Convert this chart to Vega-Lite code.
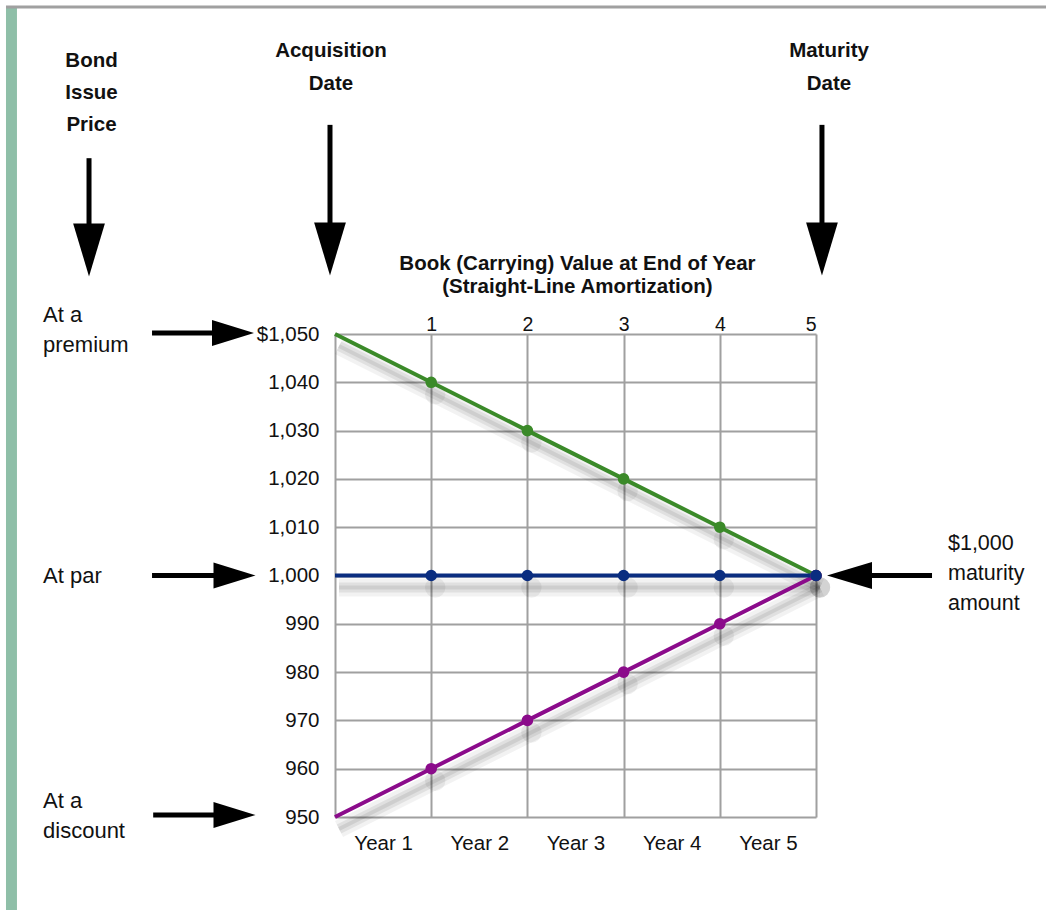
{
  "$schema": "https://vega.github.io/schema/vega-lite/v6.json",
  "width": 481,
  "height": 483,
  "autosize": {"type": "none"},
  "padding": {"left": 335, "top": 334, "right": 230, "bottom": 93},
  "background": "white",
  "config": {"view": {"stroke": null}, "font": "Liberation Sans"},
  "datasets": {
    "bonds": [
      {"year": 0, "series": "Premium", "value": 1050},
      {"year": 1, "series": "Premium", "value": 1040},
      {"year": 2, "series": "Premium", "value": 1030},
      {"year": 3, "series": "Premium", "value": 1020},
      {"year": 4, "series": "Premium", "value": 1010},
      {"year": 5, "series": "Premium", "value": 1000},
      {"year": 0, "series": "Discount", "value": 950},
      {"year": 1, "series": "Discount", "value": 960},
      {"year": 2, "series": "Discount", "value": 970},
      {"year": 3, "series": "Discount", "value": 980},
      {"year": 4, "series": "Discount", "value": 990},
      {"year": 5, "series": "Discount", "value": 1000},
      {"year": 0, "series": "Par", "value": 1000},
      {"year": 1, "series": "Par", "value": 1000},
      {"year": 2, "series": "Par", "value": 1000},
      {"year": 3, "series": "Par", "value": 1000},
      {"year": 4, "series": "Par", "value": 1000},
      {"year": 5, "series": "Par", "value": 1000}
    ]
  },
  "resolve": {"axis": {"x": "independent", "y": "independent"}},
  "layer": [
    {
      "data": {"name": "bonds"},
      "mark": {"type": "line", "color": "#000000", "opacity": 0.05, "strokeWidth": 18, "xOffset": 4, "yOffset": 12},
      "encoding": {
        "x": {"field": "year", "type": "quantitative", "axis": null, "scale": {"domain": [0, 5], "nice": false, "zero": false}},
        "y": {"field": "value", "type": "quantitative", "axis": null, "scale": {"domain": [950, 1050], "nice": false, "zero": false}},
        "detail": {"field": "series"}
      }
    },
    {
      "data": {"name": "bonds"},
      "mark": {"type": "line", "color": "#000000", "opacity": 0.07, "strokeWidth": 10, "xOffset": 4, "yOffset": 12},
      "encoding": {
        "x": {"field": "year", "type": "quantitative", "axis": null},
        "y": {"field": "value", "type": "quantitative", "axis": null},
        "detail": {"field": "series"}
      }
    },
    {
      "data": {"name": "bonds"},
      "mark": {"type": "line", "color": "#000000", "opacity": 0.08, "strokeWidth": 4, "xOffset": 4, "yOffset": 12},
      "encoding": {
        "x": {"field": "year", "type": "quantitative", "axis": null},
        "y": {"field": "value", "type": "quantitative", "axis": null},
        "detail": {"field": "series"}
      }
    },
    {
      "data": {"name": "bonds"},
      "transform": [{"filter": "datum.year > 0"}],
      "mark": {"type": "point", "filled": true, "color": "#000000", "opacity": 0.06, "size": 420, "shape": "circle", "strokeWidth": 0, "xOffset": 4, "yOffset": 12},
      "encoding": {
        "x": {"field": "year", "type": "quantitative", "axis": null},
        "y": {"field": "value", "type": "quantitative", "axis": null}
      }
    },
    {
      "data": {"name": "bonds"},
      "mark": {"type": "line", "strokeWidth": 4},
      "encoding": {
        "x": {
          "field": "year", "type": "quantitative",
          "scale": {"domain": [0, 5], "nice": false, "zero": false},
          "axis": {"orient": "top", "values": [0, 1, 2, 3, 4, 5], "labelExpr": "datum.value == 0 ? '' : datum.label", "grid": true, "gridColor": "#a0a0a0", "gridWidth": 2, "gridOpacity": 1, "ticks": false, "tickSize": 0, "domain": false, "labelBaseline": "alphabetic", "labelPadding": 4, "labelFontSize": 19.5, "labelColor": "#111111", "labelFont": "Liberation Sans", "title": null}
        },
        "y": {
          "field": "value", "type": "quantitative",
          "scale": {"domain": [950, 1050], "nice": false, "zero": false},
          "axis": {"orient": "left", "values": [950, 960, 970, 980, 990, 1000, 1010, 1020, 1030, 1040, 1050], "labelExpr": "datum.value == 1050 ? '$1,050' : format(datum.value, ',')", "grid": true, "gridColor": "#a0a0a0", "gridWidth": 2, "gridOpacity": 1, "ticks": false, "tickSize": 0, "domain": false, "labelPadding": 16, "labelFontSize": 20.5, "labelColor": "#111111", "labelFont": "Liberation Sans", "title": null}
        },
        "color": {"field": "series", "type": "nominal", "legend": null, "scale": {"domain": ["Premium", "Par", "Discount"], "range": ["#3b8a29", "#0a2d80", "#8b0b8b"]}}
      }
    },
    {
      "data": {"name": "bonds"},
      "transform": [{"filter": "datum.year > 0"}],
      "mark": {"type": "point", "filled": true, "opacity": 1, "size": 135, "shape": "circle"},
      "encoding": {
        "x": {
          "field": "year", "type": "quantitative",
          "axis": {"orient": "bottom", "values": [0.5, 1.5, 2.5, 3.5, 4.5], "labelExpr": "'Year ' + (datum.value + 0.5)", "grid": false, "ticks": false, "tickSize": 0, "domain": false, "labelPadding": 16, "labelFontSize": 20.5, "labelColor": "#111111", "labelFont": "Liberation Sans", "title": null}
        },
        "y": {"field": "value", "type": "quantitative", "axis": null},
        "color": {"field": "series", "type": "nominal", "legend": null}
      }
    },
    {
      "data": {"values": [{}]},
      "mark": {"type": "rect", "color": "#8fbfa8"},
      "encoding": {
        "x": {"datum": -3.42, "type": "quantitative", "axis": null},
        "x2": {"datum": -3.306},
        "y": {"datum": 1117.5, "type": "quantitative", "axis": null},
        "y2": {"datum": 925}
      }
    },
    {
      "data": {"values": [{}]},
      "mark": {"type": "rule", "color": "#a0a0a0", "strokeWidth": 3},
      "encoding": {
        "x": {"datum": -3.42, "type": "quantitative", "axis": null},
        "x2": {"datum": 7.5},
        "y": {"datum": 1117.7, "type": "quantitative", "axis": null}
      }
    },
    {
      "data": {"values": [{}]},
      "mark": {"type": "text", "text": ["Bond", "Issue", "Price"], "align": "center", "baseline": "alphabetic", "lineHeight": 32, "fontSize": 20.5, "fontWeight": "bold", "color": "#111111"},
      "encoding": {
        "x": {"datum": -2.531, "type": "quantitative", "axis": null},
        "y": {"datum": 1105.3, "type": "quantitative", "axis": null}
      }
    },
    {
      "data": {"values": [{}]},
      "mark": {"type": "text", "text": ["Acquisition", "Date"], "align": "center", "baseline": "alphabetic", "lineHeight": 33, "fontSize": 20.5, "fontWeight": "bold", "color": "#111111"},
      "encoding": {
        "x": {"datum": -0.042, "type": "quantitative", "axis": null},
        "y": {"datum": 1107.3, "type": "quantitative", "axis": null}
      }
    },
    {
      "data": {"values": [{}]},
      "mark": {"type": "text", "text": ["Maturity", "Date"], "align": "center", "baseline": "alphabetic", "lineHeight": 33, "fontSize": 20.5, "fontWeight": "bold", "color": "#111111"},
      "encoding": {
        "x": {"datum": 5.135, "type": "quantitative", "axis": null},
        "y": {"datum": 1107.3, "type": "quantitative", "axis": null}
      }
    },
    {
      "data": {"values": [{}]},
      "mark": {"type": "text", "text": ["Book (Carrying) Value at End of Year", "(Straight-Line Amortization)"], "align": "center", "baseline": "alphabetic", "lineHeight": 23, "fontSize": 20.5, "fontWeight": "bold", "color": "#111111"},
      "encoding": {
        "x": {"datum": 2.52, "type": "quantitative", "axis": null},
        "y": {"datum": 1063.2, "type": "quantitative", "axis": null}
      }
    },
    {
      "data": {"values": [{}]},
      "mark": {"type": "text", "text": ["At a", "premium"], "align": "left", "baseline": "alphabetic", "lineHeight": 30, "fontSize": 22, "color": "#111111"},
      "encoding": {
        "x": {"datum": -3.035, "type": "quantitative", "axis": null},
        "y": {"datum": 1052.5, "type": "quantitative", "axis": null}
      }
    },
    {
      "data": {"values": [{}]},
      "mark": {"type": "text", "text": "At par", "align": "left", "baseline": "alphabetic", "fontSize": 22, "color": "#111111"},
      "encoding": {
        "x": {"datum": -3.035, "type": "quantitative", "axis": null},
        "y": {"datum": 998.45, "type": "quantitative", "axis": null}
      }
    },
    {
      "data": {"values": [{}]},
      "mark": {"type": "text", "text": ["At a", "discount"], "align": "left", "baseline": "alphabetic", "lineHeight": 30, "fontSize": 22, "color": "#111111"},
      "encoding": {
        "x": {"datum": -3.035, "type": "quantitative", "axis": null},
        "y": {"datum": 951.9, "type": "quantitative", "axis": null}
      }
    },
    {
      "data": {"values": [{}]},
      "mark": {"type": "text", "text": ["$1,000", "maturity", "amount"], "align": "left", "baseline": "alphabetic", "lineHeight": 30, "fontSize": 21.5, "color": "#111111"},
      "encoding": {
        "x": {"datum": 6.372, "type": "quantitative", "axis": null},
        "y": {"datum": 1005.3, "type": "quantitative", "axis": null}
      }
    },
    {
      "data": {"values": [{}]},
      "mark": {"type": "rule", "color": "#000000", "strokeWidth": 5},
      "encoding": {
        "x": {"datum": -2.557, "type": "quantitative", "axis": null},
        "y": {"datum": 1086.4, "type": "quantitative", "axis": null},
        "y2": {"datum": 1071.5}
      }
    },
    {
      "data": {"values": [{}]},
      "mark": {"type": "rule", "color": "#000000", "strokeWidth": 5},
      "encoding": {
        "x": {"datum": -0.052, "type": "quantitative", "axis": null},
        "y": {"datum": 1093.3, "type": "quantitative", "axis": null},
        "y2": {"datum": 1071.5}
      }
    },
    {
      "data": {"values": [{}]},
      "mark": {"type": "rule", "color": "#000000", "strokeWidth": 5},
      "encoding": {
        "x": {"datum": 5.062, "type": "quantitative", "axis": null},
        "y": {"datum": 1093.3, "type": "quantitative", "axis": null},
        "y2": {"datum": 1071.5}
      }
    },
    {
      "data": {"values": [{}]},
      "mark": {"type": "point", "shape": "M-0.6,-1L0.6,-1L0,1Z", "filled": true, "opacity": 1, "color": "#000000", "size": 2800, "strokeWidth": 0},
      "encoding": {
        "x": {"datum": -2.557, "type": "quantitative", "axis": null},
        "y": {"datum": 1067.4, "type": "quantitative", "axis": null}
      }
    },
    {
      "data": {"values": [{}]},
      "mark": {"type": "point", "shape": "M-0.6,-1L0.6,-1L0,1Z", "filled": true, "opacity": 1, "color": "#000000", "size": 2800, "strokeWidth": 0},
      "encoding": {
        "x": {"datum": -0.052, "type": "quantitative", "axis": null},
        "y": {"datum": 1067.6, "type": "quantitative", "axis": null}
      }
    },
    {
      "data": {"values": [{}]},
      "mark": {"type": "point", "shape": "M-0.6,-1L0.6,-1L0,1Z", "filled": true, "opacity": 1, "color": "#000000", "size": 2800, "strokeWidth": 0},
      "encoding": {
        "x": {"datum": 5.062, "type": "quantitative", "axis": null},
        "y": {"datum": 1067.6, "type": "quantitative", "axis": null}
      }
    },
    {
      "data": {"values": [{}]},
      "mark": {"type": "rule", "color": "#000000", "strokeWidth": 5},
      "encoding": {
        "x": {"datum": -1.902, "type": "quantitative", "axis": null},
        "x2": {"datum": -1.2},
        "y": {"datum": 1050.2, "type": "quantitative", "axis": null}
      }
    },
    {
      "data": {"values": [{}]},
      "mark": {"type": "rule", "color": "#000000", "strokeWidth": 5},
      "encoding": {
        "x": {"datum": -1.902, "type": "quantitative", "axis": null},
        "x2": {"datum": -1.2},
        "y": {"datum": 1000, "type": "quantitative", "axis": null}
      }
    },
    {
      "data": {"values": [{}]},
      "mark": {"type": "rule", "color": "#000000", "strokeWidth": 5},
      "encoding": {
        "x": {"datum": -1.89, "type": "quantitative", "axis": null},
        "x2": {"datum": -1.2},
        "y": {"datum": 950.4, "type": "quantitative", "axis": null}
      }
    },
    {
      "data": {"values": [{}]},
      "mark": {"type": "rule", "color": "#000000", "strokeWidth": 5},
      "encoding": {
        "x": {"datum": 5.55, "type": "quantitative", "axis": null},
        "x2": {"datum": 6.206},
        "y": {"datum": 1000, "type": "quantitative", "axis": null}
      }
    },
    {
      "data": {"values": [{}]},
      "mark": {"type": "point", "shape": "M-1,-0.62L1,0L-1,0.62Z", "filled": true, "opacity": 1, "color": "#000000", "size": 1764, "strokeWidth": 0},
      "encoding": {
        "x": {"datum": -1.06, "type": "quantitative", "axis": null},
        "y": {"datum": 1050.2, "type": "quantitative", "axis": null}
      }
    },
    {
      "data": {"values": [{}]},
      "mark": {"type": "point", "shape": "M-1,-0.62L1,0L-1,0.62Z", "filled": true, "opacity": 1, "color": "#000000", "size": 1764, "strokeWidth": 0},
      "encoding": {
        "x": {"datum": -1.045, "type": "quantitative", "axis": null},
        "y": {"datum": 1000, "type": "quantitative", "axis": null}
      }
    },
    {
      "data": {"values": [{}]},
      "mark": {"type": "point", "shape": "M-1,-0.62L1,0L-1,0.62Z", "filled": true, "opacity": 1, "color": "#000000", "size": 1764, "strokeWidth": 0},
      "encoding": {
        "x": {"datum": -1.045, "type": "quantitative", "axis": null},
        "y": {"datum": 950.4, "type": "quantitative", "axis": null}
      }
    },
    {
      "data": {"values": [{}]},
      "mark": {"type": "point", "shape": "M1,-0.6L-1,0L1,0.6Z", "filled": true, "opacity": 1, "color": "#000000", "size": 2025, "strokeWidth": 0},
      "encoding": {
        "x": {"datum": 5.348, "type": "quantitative", "axis": null},
        "y": {"datum": 1000, "type": "quantitative", "axis": null}
      }
    }
  ]
}
